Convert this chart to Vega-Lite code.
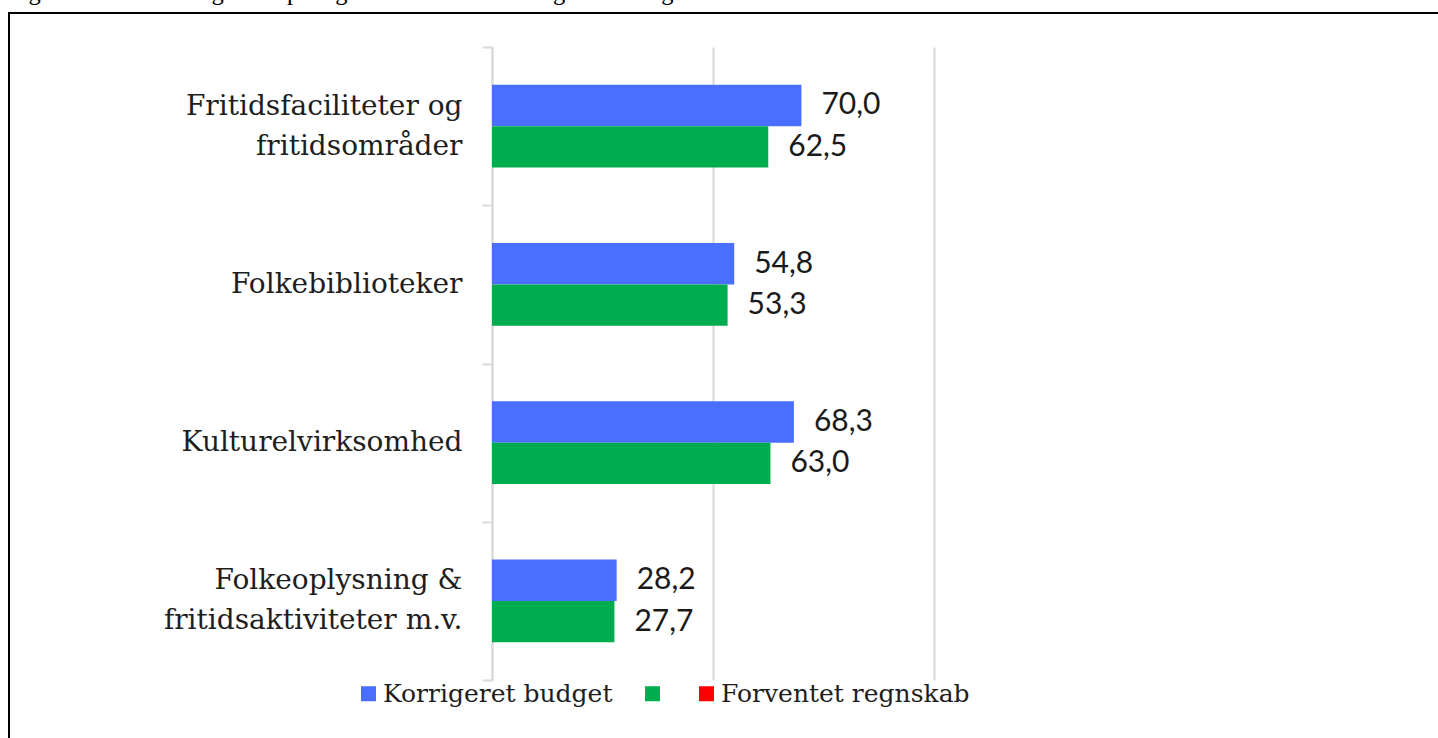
{
  "$schema": "https://vega.github.io/schema/vega-lite/v6.json",
  "autosize": {"type": "none"},
  "padding": {"left": 9, "top": 13, "right": 0, "bottom": 0},
  "width": 1429,
  "height": 725,
  "title": {
    "text": "Figur 1: Forventet regnskab på fagområder ift. det korrigerede budget",
    "anchor": "start",
    "font": "Liberation Serif",
    "fontSize": 24.5,
    "fontWeight": "normal",
    "color": "#000000",
    "baseline": "alphabetic",
    "offset": 0,
    "dy": 25,
    "dx": -1
  },
  "data": {
    "values": [
      {"kategori": "Fritidsfaciliteter og fritidsområder", "serie": "Korrigeret budget", "vaerdi": 70.0},
      {"kategori": "Fritidsfaciliteter og fritidsområder", "serie": "Forventet regnskab", "vaerdi": 62.5},
      {"kategori": "Folkebiblioteker", "serie": "Korrigeret budget", "vaerdi": 54.8},
      {"kategori": "Folkebiblioteker", "serie": "Forventet regnskab", "vaerdi": 53.3},
      {"kategori": "Kulturelvirksomhed", "serie": "Korrigeret budget", "vaerdi": 68.3},
      {"kategori": "Kulturelvirksomhed", "serie": "Forventet regnskab", "vaerdi": 63.0},
      {"kategori": "Folkeoplysning & fritidsaktiviteter m.v.", "serie": "Korrigeret budget", "vaerdi": 28.2},
      {"kategori": "Folkeoplysning & fritidsaktiviteter m.v.", "serie": "Forventet regnskab", "vaerdi": 27.7}
    ]
  },
  "encoding": {
    "y": {
      "field": "kategori",
      "type": "nominal",
      "sort": null,
      "scale": {
        "domain": ["Fritidsfaciliteter og fritidsområder", "Folkebiblioteker", "Kulturelvirksomhed", "Folkeoplysning & fritidsaktiviteter m.v."],
        "range": [34, 667],
        "paddingInner": 0,
        "paddingOuter": 0
      },
      "axis": {
        "title": null,
        "orient": "left",
        "offset": -483,
        "tickBand": "extent",
        "domainColor": "#d9d9d9",
        "domainWidth": 2,
        "tickColor": "#d9d9d9",
        "tickWidth": 2,
        "tickSize": 10,
        "labelPadding": 20,
        "labelFont": "DejaVu Serif",
        "labelFontSize": 28,
        "labelColor": "#1e1e1e",
        "labelLineHeight": 40,
        "labelLimit": 400,
        "labelOffset": {"condition": {"test": "datum.value == 'Fritidsfaciliteter og fritidsområder' || datum.value == 'Folkeoplysning & fritidsaktiviteter m.v.'", "value": -20}, "value": 0},
        "labelExpr": "datum.value == 'Fritidsfaciliteter og fritidsområder' ? ['Fritidsfaciliteter og', 'fritidsområder'] : datum.value == 'Folkeoplysning & fritidsaktiviteter m.v.' ? ['Folkeoplysning &', 'fritidsaktiviteter m.v.'] : datum.label"
      }
    },
    "yOffset": {
      "field": "serie",
      "type": "nominal",
      "scale": {"domain": ["Korrigeret budget", "Forventet regnskab"], "paddingInner": 0, "paddingOuter": 0.907}
    },
    "x": {
      "field": "vaerdi",
      "type": "quantitative",
      "scale": {"domain": [0, 100], "range": [483, 925], "nice": false},
      "axis": {
        "title": null,
        "orient": "top",
        "values": [0, 50, 100],
        "labels": false,
        "ticks": false,
        "domain": false,
        "grid": true,
        "gridColor": "#d9d9d9",
        "gridWidth": 2
      }
    }
  },
  "layer": [
    {
      "mark": {"type": "bar"},
      "encoding": {
        "color": {
          "field": "serie",
          "type": "nominal",
          "scale": {
            "domain": ["Korrigeret budget", "Forventet regnskab", "Forventet regnskab (rød)"],
            "range": ["#4a6fff", "#00ad4e", "#ff0000"]
          },
          "legend": {
            "title": null,
            "orient": "none",
            "direction": "horizontal",
            "legendX": 347,
            "legendY": 668,
            "symbolType": "square",
            "symbolSize": 225,
            "symbolStrokeWidth": 0,
            "symbolOpacity": 1,
            "labelOffset": 2,
            "columnPadding": 27,
            "labelFont": "DejaVu Serif",
            "labelFontSize": 25,
            "labelColor": "#1e1e1e",
            "labelLimit": 400,
            "labelExpr": "datum.value == 'Forventet regnskab' ? '' : replace(datum.label, ' (rød)', '')"
          }
        }
      }
    },
    {
      "mark": {"type": "text", "align": "left", "baseline": "middle", "dx": 20, "font": "Lato", "fontSize": 30, "color": "#1a1a1a"},
      "encoding": {
        "text": {"field": "vaerdi", "type": "quantitative", "format": ".1f"}
      }
    }
  ],
  "config": {
    "locale": {"number": {"decimal": ",", "thousands": ".", "grouping": [3], "currency": ["", " kr."]}},
    "view": {"stroke": "#000000", "strokeWidth": 2, "strokeDash": [1429, 2154, 725, 10]}
  }
}
